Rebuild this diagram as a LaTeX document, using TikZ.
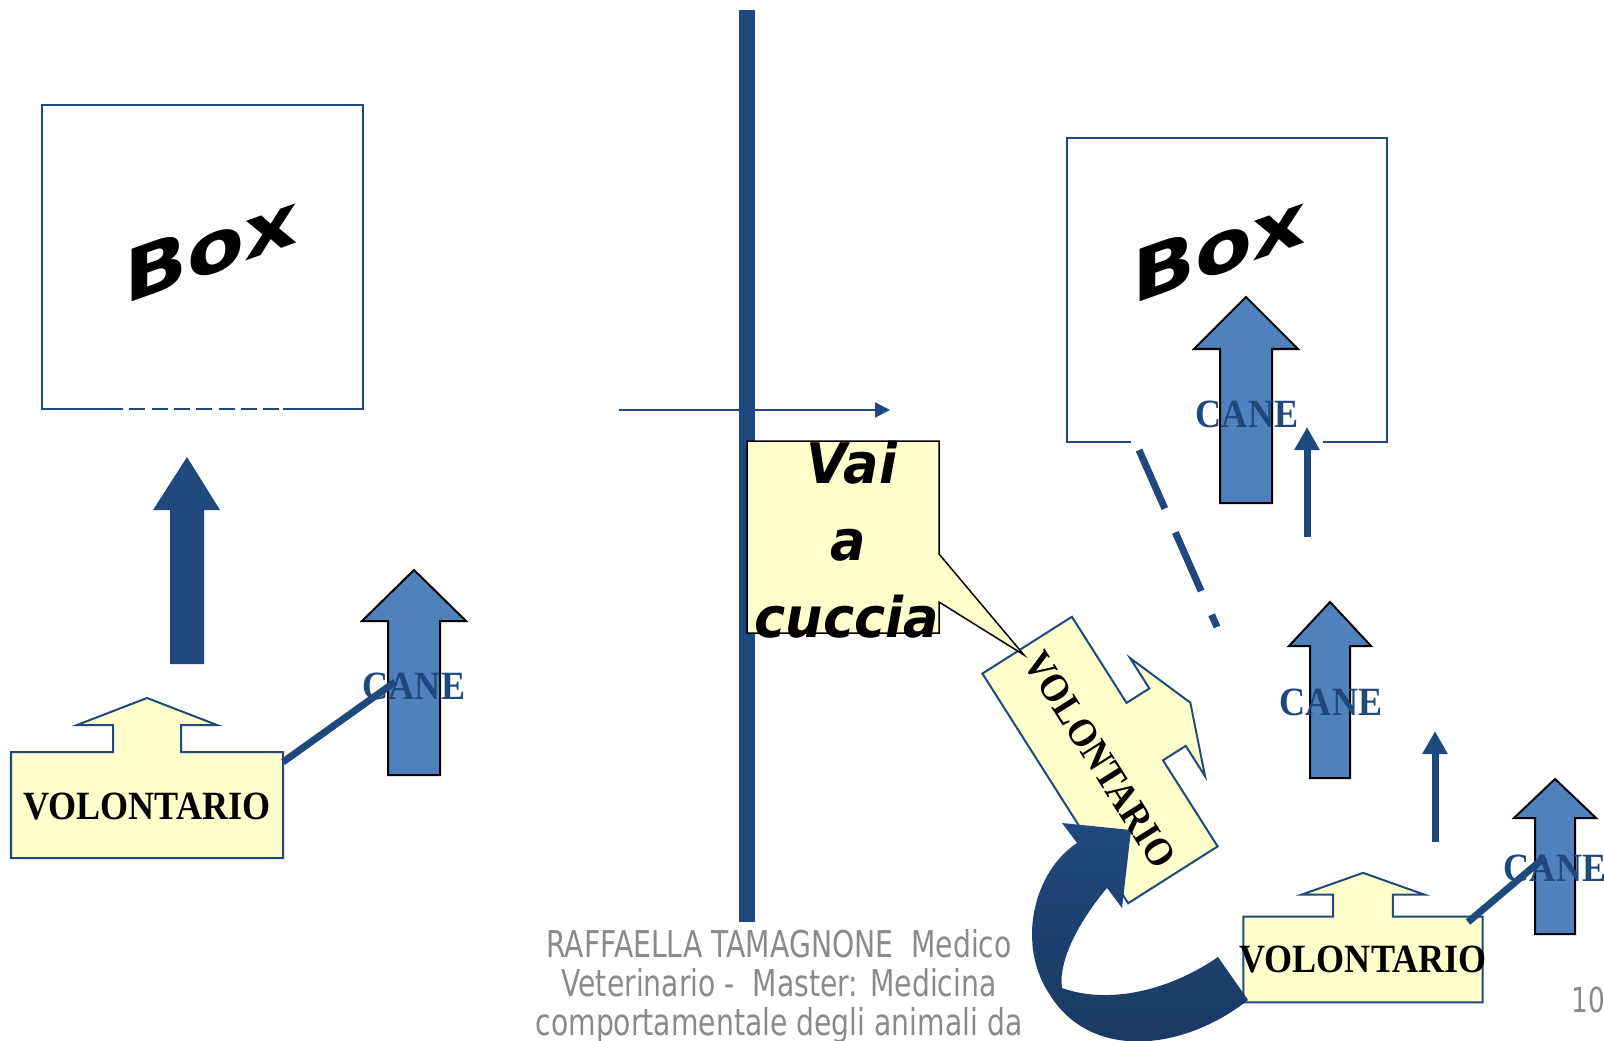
\documentclass[tikz,border=0pt]{standalone}
\usepackage{fontspec}
\setmainfont{Liberation Serif}
\newfontfamily\boxfont{DejaVu Sans Bold}
\newfontfamily\vaifont{DejaVu Sans Bold Oblique}
\newfontfamily\footfont{DejaVu Sans}
\usetikzlibrary{arrows.meta}

\definecolor{darkblue}{HTML}{1F497D}
\definecolor{deepblue}{HTML}{1A3860}
\definecolor{canefill}{HTML}{4F81BD}
\definecolor{noteyellow}{HTML}{FFFFCC}
\definecolor{footgray}{HTML}{8A8A8A}

\tikzset{
  wall/.style={draw=darkblue, line width=0.02cm},
  volshape/.style={draw=darkblue, fill=noteyellow, line width=0.02cm},
  voltext/.style={font=\fontsize{11.4}{13}\selectfont\bfseries, xscale=0.9, inner sep=0},
  canetext/.style={font=\fontsize{11.4}{13}\selectfont\bfseries, text=darkblue, xscale=0.9, inner sep=0},
  boxtext/.style={font=\boxfont\fontsize{20.5}{24}\selectfont, yslant=0.356, xscale=1.15, inner sep=0},
  vaitext/.style={font=\vaifont\fontsize{15.9}{19}\selectfont, xscale=0.94, inner sep=0},
  footer/.style={font=\footfont\fontsize{10.5}{11}\selectfont, text=footgray, xscale=0.765, inner sep=0},
  leash/.style={darkblue, line width=0.07cm},
  walk/.style={darkblue, line width=0.07cm, -{Triangle[length=0.23cm, width=0.24cm]}},
  pics/volontario/.style={code={
    \draw[volshape] (-136,-53) -- (-34,-53) -- (-34,-80) -- (-70,-80) -- (0,-107) -- (70,-80)
      -- (34,-80) -- (34,-53) -- (136,-53) -- (136,53) -- (-136,53) -- cycle;
  }},
  pics/canearrow/.style n args={4}{code={
    \draw[fill=canefill, draw=black, line width=0.02cm] (0,0) -- (#1,#3) -- (#2,#3) -- (#2,#4)
      -- (-#2,#4) -- (-#2,#3) -- (-#1,#3) -- cycle;
  }},
}

\begin{document}
\begin{tikzpicture}[x=0.01cm, y=-0.01cm]
  \useasboundingbox (0,0) rectangle (1604,1040);

  % left: box, volunteer and dog
  \draw[wall] (123,409) -- (42,409) -- (42,105) -- (363,105) -- (363,409) -- (283,409);
  \draw[wall, dash pattern=on 0.16cm off 0.063cm, dash phase=0.16cm] (123,409) -- (283,409);
  \node[boxtext] (box1) at (211,248) {Box};

  \fill[darkblue] (187,457) -- (220,510) -- (204,510) -- (204,664) -- (170,664) -- (170,510) -- (153,510) -- cycle;

  \pic at (147,805) {volontario};
  \node[voltext] (vol1) at (147,807) {VOLONTARIO};
  \pic at (414,570) {canearrow={52}{26}{51}{205}};
  \node[canetext] (cane1) at (414,686) {CANE};
  \coordinate (hand1) at (283,762);
  \coordinate (collar1) at (395,682);
  \draw[leash] (hand1) -- (collar1);

  % separation wall
  \fill[darkblue] (739,10) rectangle (755,922);
  \coordinate (from) at (619,410);
  \coordinate (to) at (890,410);
  \draw[darkblue, line width=0.02cm, -{Triangle[length=0.15cm, width=0.15cm]}] (from) -- (to);

  % right
  \pic[rotate=-57.6] at (1100,760) {volontario};

  \draw[fill=noteyellow, draw=black, line width=0.015cm] (747,441) -- (939,441) -- (939,554) -- (1024,655)
    -- (939,602) -- (939,633) -- (747,633) -- cycle;
  \node[vaitext, anchor=base] (vai) at (852,483) {Vai};
  \node[vaitext, anchor=base] (vaia) at (848,560) {a};
  \node[vaitext, anchor=base] (cuccia) at (847,637) {cuccia};

  \draw[wall] (1131,442) -- (1067,442) -- (1067,138) -- (1387,138) -- (1387,442) -- (1323,442);
  \node[boxtext] (box2) at (1219,248) {Box};
  \coordinate (door) at (1139,450);
  \coordinate (trail) at (1217,627);
  \draw[darkblue, line width=0.07cm, dash pattern=on 0.64cm off 0.26cm] (door) -- (trail);

  \pic at (1246,297) {canearrow={52}{26}{52}{206}};
  \node[canetext] (cane2) at (1247,414) {CANE};
  \coordinate (walk1a) at (1307,537);
  \coordinate (walk1b) at (1307,427);
  \draw[walk] (walk1a) -- (walk1b);

  \pic at (1330,602) {canearrow={41}{20}{44}{176}};
  \node[canetext] (cane3) at (1331,702) {CANE};
  \coordinate (walk2a) at (1435,842);
  \coordinate (walk2b) at (1435,731);
  \draw[walk] (walk2a) -- (walk2b);

  \pic at (1555,779) {canearrow={41}{20}{39}{155}};
  \node[canetext] (cane4) at (1555,868) {CANE};

  \pic[xscale=0.88, yscale=0.81] at (1363,959.5) {volontario};
  \node[voltext] (vol3) at (1363,960) {VOLONTARIO};
  \coordinate (hand3) at (1468,922);
  \coordinate (collar3) at (1545,857);
  \draw[leash] (hand3) -- (collar3);

  % turning arrow
  \shade[top color=darkblue, bottom color=deepblue] (1248,1000) .. controls (1185,1050) and (1092,1062) .. (1050,995)
    .. controls (1016,945) and (1033,872) .. (1077,843) -- (1062,823) -- (1131,830) -- (1122,908) -- (1107,888)
    .. controls (1080,920) and (1058,960) .. (1062,988) .. controls (1110,1005) and (1170,990) .. (1218,957) -- cycle;
  \node[rotate=-57.6, voltext] (vol2) at (1100,760) {VOLONTARIO};

  % footer
  \node[footer, anchor=base] (foot1) at (779,957) {RAFFAELLA TAMAGNONE~ Medico};
  \node[footer, anchor=base] (foot2) at (779,996) {Veterinario -~ Master: Medicina};
  \node[footer, anchor=base] (foot3) at (779,1035) {comportamentale degli animali da};
  \node[footer, anchor=base west, font=\footfont\fontsize{9.8}{10}\selectfont] (pagenum) at (1571,1012) {10};
\end{tikzpicture}
\end{document}
